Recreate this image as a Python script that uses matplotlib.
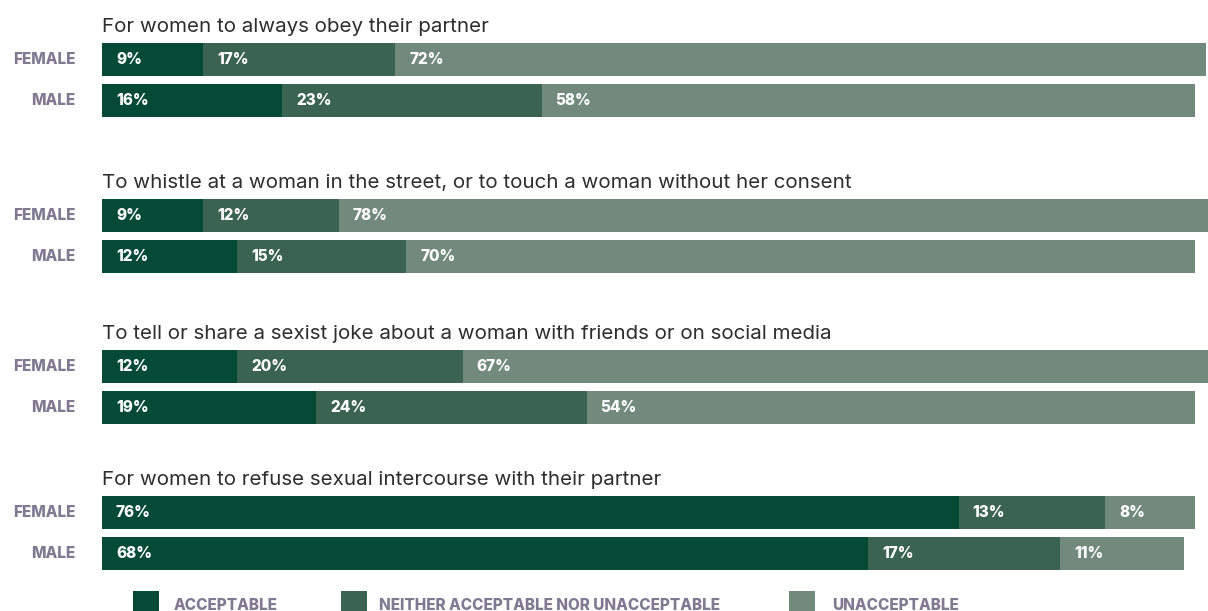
import matplotlib
matplotlib.use("Agg")
import matplotlib.pyplot as plt
from matplotlib.patches import Rectangle
import numpy as np

questions = [
    "For women to always obey their partner",
    "To whistle at a woman in the street, or to touch a woman without her consent",
    "To tell or share a sexist joke about a woman with friends or on social media",
    "For women to refuse sexual intercourse with their partner",
]
genders = ["FEMALE", "MALE"]
categories = ["ACCEPTABLE", "NEITHER ACCEPTABLE NOR UNACCEPTABLE", "UNACCEPTABLE"]
acceptable_female = [9, 9, 12, 76]
acceptable_male = [16, 12, 19, 68]
neither_female = [17, 12, 20, 13]
neither_male = [23, 15, 24, 17]
unacceptable_female = [72, 78, 67, 8]
unacceptable_male = [58, 70, 54, 11]

colors = ["#054a34", "#3b6351", "#728a7b"]
label_color = "#7f7a92"
title_color = "#2e2e2e"
FONT = ["Inter", "DejaVu Sans"]
HEAVY = 800

W, H = 1208, 611
fig = plt.figure(figsize=(W / 100, H / 100), dpi=100)

# overlay axes in pixel coordinates for titles, row labels, legend
ov = fig.add_axes([0, 0, 1, 1])
ov.set_xlim(0, W)
ov.set_ylim(H, 0)
ov.axis("off")

x0 = 102
ax = fig.add_axes([x0 / W, 0, 1 - x0 / W, 1])
ax.set_xlim(0, (W - x0) / 11.27)
ax.set_ylim(H, 0)
ax.axis("off")

group_tops = [43, 199, 350, 496]
bar_h = 33
row_gap = 41

data = {
    "FEMALE": [acceptable_female, neither_female, unacceptable_female],
    "MALE": [acceptable_male, neither_male, unacceptable_male],
}

for gi, q in enumerate(questions):
    top = group_tops[gi]
    ov.text(x0, top - 11, q, fontsize=14.8, color=title_color, family=FONT,
            va="baseline", ha="left")
    for ri, g in enumerate(genders):
        yc = top + ri * row_gap + bar_h / 2
        ov.text(75, yc, g, fontsize=11, fontweight=HEAVY, color=label_color,
                family=FONT, va="center", ha="right")
        left = 0
        for ci in range(3):
            v = data[g][ci][gi]
            ax.barh(yc, v, left=left, height=bar_h, color=colors[ci], linewidth=0)
            ax.annotate(f"{v}%", xy=(left, yc), xytext=(14, 0), textcoords="offset pixels",
                        fontsize=11, fontweight=HEAVY, color="white", family=FONT,
                        va="center", ha="left")
            left += v

# legend
leg_x = [133, 341, 789]
leg_tx = [174, 379, 832]
for i, c in enumerate(categories):
    ov.add_patch(Rectangle((leg_x[i], 591), 26, 24, color=colors[i], linewidth=0,
                           clip_on=False))
    ov.text(leg_tx[i], 605, c, fontsize=11, fontweight=HEAVY, color=label_color,
            family=FONT, va="center", ha="left")

fig.savefig("out.png", dpi=100)
